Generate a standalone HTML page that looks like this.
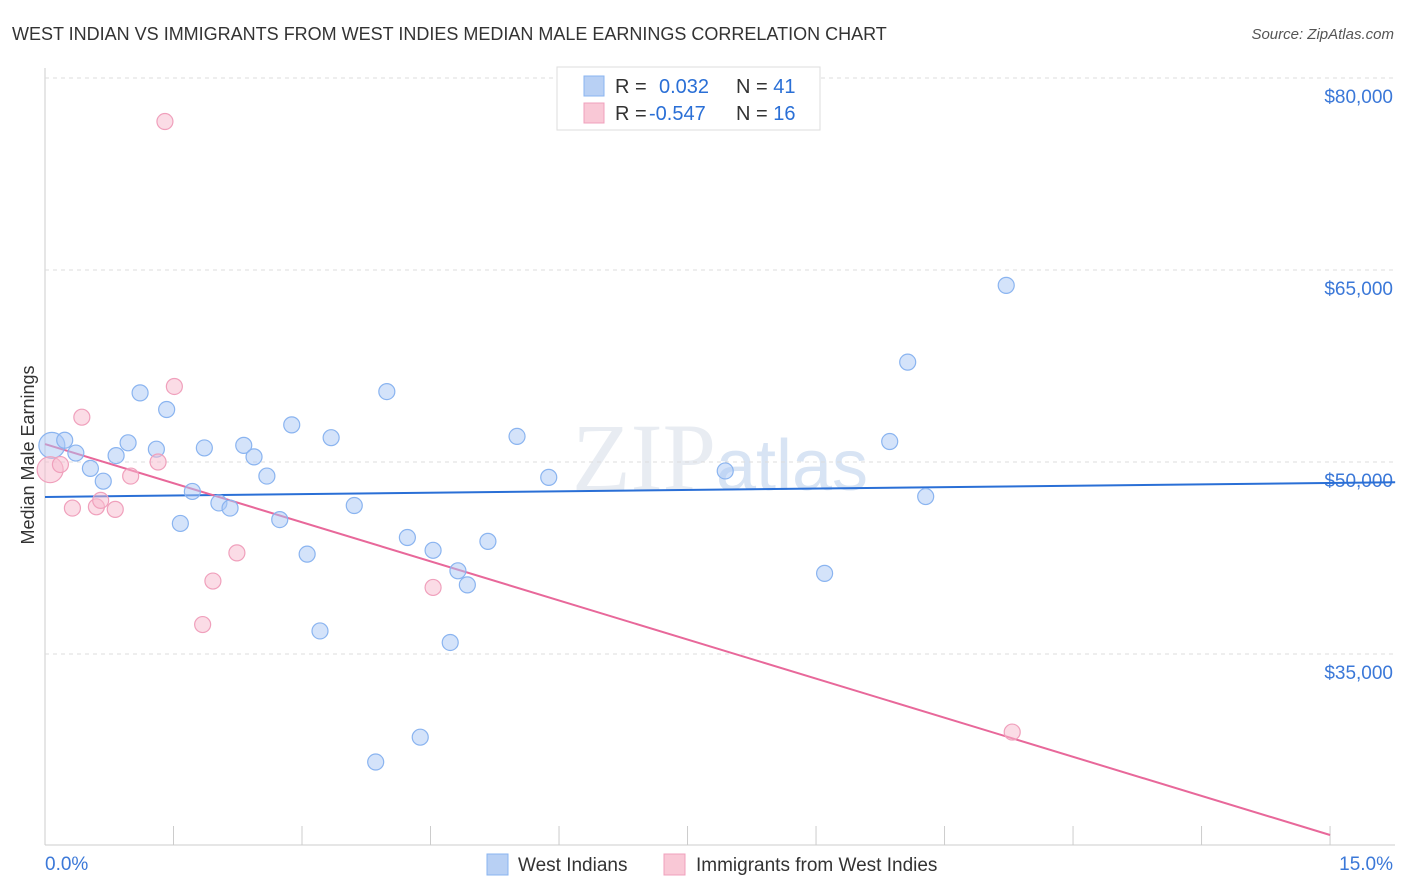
<!DOCTYPE html>
<html><head><meta charset="utf-8"><style>
body{margin:0;background:#fff;font-family:"Liberation Sans",sans-serif;}
svg{display:block}
</style></head><body>
<svg id="chart" width="1406" height="892">
<text x="12" y="40" font-size="18" fill="#333">WEST INDIAN VS IMMIGRANTS FROM WEST INDIES MEDIAN MALE EARNINGS CORRELATION CHART</text>
<text x="1394" y="39" font-size="15" fill="#555" font-style="italic" text-anchor="end">Source: ZipAtlas.com</text>
<text x="720" y="490" font-size="96" fill="#e8ecf2" text-anchor="middle" font-family="Liberation Serif,serif">ZIP<tspan fill="#d8e4f4" font-family="Liberation Sans,sans-serif" font-size="72">atlas</tspan></text>
<text transform="translate(34,455) rotate(-90)" font-size="18" fill="#333" text-anchor="middle">Median Male Earnings</text>
<g id="grid"></g><g id="lines"></g><g id="pts"></g>
<g>
<rect x="557" y="67" width="263" height="63" fill="#fff" stroke="#ddd"/>
<rect x="584" y="76" width="20" height="20" fill="#b8d0f4" stroke="#8ab4f0"/>
<rect x="584" y="103" width="20" height="20" fill="#f9c8d6" stroke="#f0a0bc"/>
<text x="615" y="93" font-size="20" fill="#333">R = <tspan x="659" fill="#2a6fd6">0.032</tspan><tspan x="736" fill="#333">N = </tspan><tspan fill="#2a6fd6">41</tspan></text>
<text x="615" y="120" font-size="20" fill="#333">R = <tspan x="649" fill="#2a6fd6">-0.547</tspan><tspan x="736" fill="#333">N = </tspan><tspan fill="#2a6fd6">16</tspan></text>
</g>
<g>
<rect x="487" y="854" width="21" height="21" fill="#b8d0f4" stroke="#8ab4f0"/>
<text x="518" y="871" font-size="19" fill="#333">West Indians</text>
<rect x="664" y="854" width="21" height="21" fill="#f9c8d6" stroke="#f0a0bc"/>
<text x="696" y="871" font-size="19" fill="#333">Immigrants from West Indies</text>
</g>
</svg>
<script>
const yTicks=[35000,50000,65000,80000];
const yTickLabels=["$35,000","$50,000","$65,000","$80,000"];
const xTickLabels=["0.0%","15.0%"];
const blueX=[0.08,0.23,0.36,0.53,0.68,0.83,0.97,1.11,1.30,1.42,1.58,1.72,1.86,2.03,2.16,2.32,2.44,2.59,2.74,2.88,3.06,3.21,3.34,3.61,3.86,3.99,4.23,4.38,4.53,4.73,4.82,4.93,5.17,5.51,5.88,7.94,9.10,9.86,10.07,10.28,11.22];
const blueY=[51300,51700,50700,49500,48500,50500,51500,55400,51000,54100,45200,47700,51100,46800,46400,51300,50400,48900,45500,52900,42800,36800,51900,46600,26560,55500,44100,28500,43100,35900,41500,40400,43800,52000,48800,49300,41300,51600,57800,47300,63800];
const pinkX=[0.06,0.18,0.32,0.43,0.60,0.65,0.82,1.00,1.32,1.40,1.51,1.84,1.96,2.24,4.53,11.29];
const pinkY=[49400,49800,46400,53500,46500,47000,46300,48900,50000,76600,55900,37300,40700,42900,40200,28900];
const blueFit=[47270,48360];
const pinkFit=[51400,20860];
const sx=v=>45+v*85.67, sy=v=>462-(v-50000)*0.0128;
const NS="http://www.w3.org/2000/svg";
function mk(p,t,a){const e=document.createElementNS(NS,t);for(const k in a)e.setAttribute(k,a[k]);p.appendChild(e);return e;}
const g=document.getElementById('grid');
let ax=mk(g,'line',{x1:45,y1:68,x2:45,y2:845,stroke:'#ccc'});

let bx=mk(g,'line',{x1:45,y1:845,x2:1395,y2:845,stroke:'#ccc'});

yTicks.forEach((t,i)=>{const y=sy(t);
const l=mk(g,'line',{x1:45,y1:y,x2:1395,y2:y,stroke:'#ddd','stroke-dasharray':'4,4'});

const tx=mk(g,'text',{x:1393,y:y+25,'font-size':19,fill:'#3b78d8','text-anchor':'end'});tx.textContent=yTickLabels[i];
});
for(let i=1;i<=10;i++){const x=sx(i*1.5);const l=mk(g,'line',{x1:x,y1:826,x2:x,y2:845,stroke:'#ccc'});
}
[[0,45,'start'],[15,1393,'end']].forEach((a,i)=>{const tx=mk(g,'text',{x:a[1],y:870,'font-size':19,fill:'#3b78d8','text-anchor':a[2]});tx.textContent=xTickLabels[i];
});
const P=document.getElementById('pts');
function pts(X,Y,fill,st,name){X.forEach((x,i)=>{const c=mk(P,'circle',{cx:sx(x),cy:sy(Y[i]),r:i==0?13:8,fill:fill,stroke:st,'stroke-width':1.2});
});}
pts(blueX,blueY,'rgba(170,200,245,0.5)','#8ab4f0','west-indians-point');
pts(pinkX,pinkY,'rgba(248,185,205,0.5)','#f0a0bc','immigrants-point');
const L=document.getElementById('lines');
let bl=mk(L,'line',{x1:sx(0),y1:sy(blueFit[0]),x2:sx(15.76),y2:sy(blueFit[0]+(blueFit[1]-blueFit[0])*15.76/15),stroke:'#2a6fd6','stroke-width':2});

let pl=mk(L,'line',{x1:sx(0),y1:sy(pinkFit[0]),x2:sx(15),y2:sy(pinkFit[1]),stroke:'#e8689a','stroke-width':2});

</script>
</body></html>
